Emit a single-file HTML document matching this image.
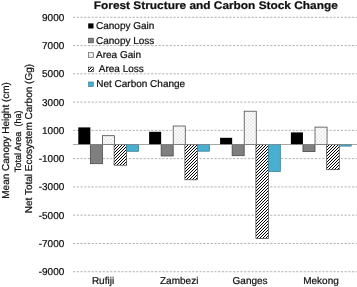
<!DOCTYPE html>
<html><head><meta charset="utf-8"><title>Forest Structure and Carbon Stock Change</title>
<style>html,body{margin:0;padding:0;background:#fff;}body{width:357px;height:287px;overflow:hidden;}svg{display:block;filter:blur(0.35px);}text{font-family:"Liberation Sans",sans-serif;fill:#111;stroke:#111;stroke-width:0.22px;text-rendering:geometricPrecision;}</style>
</head><body>
<svg width="357" height="287" viewBox="0 0 357 287">
<defs>
<pattern id="hatch" patternUnits="userSpaceOnUse" width="3" height="3"><rect width="3" height="3" fill="#fff"/><path d="M-1,1 L1,-1 M0,3 L3,0 M2,4 L4,2" stroke="#000" stroke-width="1.0"/></pattern>
<pattern id="dots" patternUnits="userSpaceOnUse" width="3.5" height="3.5"><rect width="3.5" height="3.5" fill="#fff"/><rect x="0.4" y="0.4" width="1" height="1" fill="#b8b8b8"/><rect x="2.15" y="2.15" width="1" height="1" fill="#b8b8b8"/></pattern>
</defs>
<rect width="357" height="287" fill="#fff"/>
<line x1="73.0" x2="357" y1="17.28" y2="17.28" stroke="#b2b2b2" stroke-width="1" stroke-dasharray="2.2 1.52"/>
<line x1="73.0" x2="357" y1="45.56" y2="45.56" stroke="#b2b2b2" stroke-width="1" stroke-dasharray="2.2 1.52"/>
<line x1="73.0" x2="357" y1="73.83" y2="73.83" stroke="#b2b2b2" stroke-width="1" stroke-dasharray="2.2 1.52"/>
<line x1="73.0" x2="357" y1="102.09" y2="102.09" stroke="#b2b2b2" stroke-width="1" stroke-dasharray="2.2 1.52"/>
<line x1="73.0" x2="357" y1="130.37" y2="130.37" stroke="#b2b2b2" stroke-width="1" stroke-dasharray="2.2 1.52"/>
<line x1="73.0" x2="357" y1="158.63" y2="158.63" stroke="#b2b2b2" stroke-width="1" stroke-dasharray="2.2 1.52"/>
<line x1="73.0" x2="357" y1="186.91" y2="186.91" stroke="#b2b2b2" stroke-width="1" stroke-dasharray="2.2 1.52"/>
<line x1="73.0" x2="357" y1="215.18" y2="215.18" stroke="#b2b2b2" stroke-width="1" stroke-dasharray="2.2 1.52"/>
<line x1="73.0" x2="357" y1="243.44" y2="243.44" stroke="#b2b2b2" stroke-width="1" stroke-dasharray="2.2 1.52"/>
<line x1="73.0" x2="357" y1="271.72" y2="271.72" stroke="#b2b2b2" stroke-width="1" stroke-dasharray="2.2 1.52"/>
<text x="64.3" y="20.68" font-size="10" text-anchor="end">9000</text>
<text x="64.3" y="48.96" font-size="10" text-anchor="end">7000</text>
<text x="64.3" y="77.23" font-size="10" text-anchor="end">5000</text>
<text x="64.3" y="105.50" font-size="10" text-anchor="end">3000</text>
<text x="64.3" y="133.77" font-size="10" text-anchor="end">1000</text>
<text x="64.3" y="162.03" font-size="10" text-anchor="end">-1000</text>
<text x="64.3" y="190.31" font-size="10" text-anchor="end">-3000</text>
<text x="64.3" y="218.58" font-size="10" text-anchor="end">-5000</text>
<text x="64.3" y="246.84" font-size="10" text-anchor="end">-7000</text>
<text x="64.3" y="275.12" font-size="10" text-anchor="end">-9000</text>
<rect x="78.30" y="127.40" width="12.05" height="17.10" fill="#000"/>
<rect x="90.35" y="144.50" width="12.05" height="19.20" fill="#7f7f7f" stroke="#4a4a4a" stroke-width="0.8"/>
<rect x="102.40" y="135.70" width="12.05" height="8.80" fill="url(#dots)" stroke="#404040" stroke-width="0.75"/>
<rect x="114.10" y="144.50" width="12.55" height="20.70" fill="url(#hatch)" stroke="#404040" stroke-width="0.7"/>
<rect x="126.50" y="144.50" width="12.05" height="6.80" fill="#48afd0" stroke="#3a7f96" stroke-width="0.8"/>
<rect x="149.10" y="131.80" width="12.05" height="12.70" fill="#000"/>
<rect x="161.15" y="144.50" width="12.05" height="11.50" fill="#7f7f7f" stroke="#4a4a4a" stroke-width="0.8"/>
<rect x="173.20" y="126.00" width="12.05" height="18.50" fill="url(#dots)" stroke="#404040" stroke-width="0.75"/>
<rect x="184.90" y="144.50" width="12.55" height="35.30" fill="url(#hatch)" stroke="#404040" stroke-width="0.7"/>
<rect x="197.30" y="144.50" width="12.05" height="6.70" fill="#48afd0" stroke="#3a7f96" stroke-width="0.8"/>
<rect x="220.10" y="137.80" width="12.05" height="6.70" fill="#000"/>
<rect x="232.15" y="144.50" width="12.05" height="11.20" fill="#7f7f7f" stroke="#4a4a4a" stroke-width="0.8"/>
<rect x="244.20" y="111.20" width="12.05" height="33.30" fill="url(#dots)" stroke="#404040" stroke-width="0.75"/>
<rect x="255.90" y="144.50" width="12.55" height="94.10" fill="url(#hatch)" stroke="#404040" stroke-width="0.7"/>
<rect x="268.30" y="144.50" width="12.05" height="26.90" fill="#48afd0" stroke="#3a7f96" stroke-width="0.8"/>
<rect x="290.90" y="132.40" width="12.05" height="12.10" fill="#000"/>
<rect x="302.95" y="144.50" width="12.05" height="7.10" fill="#7f7f7f" stroke="#4a4a4a" stroke-width="0.8"/>
<rect x="315.00" y="127.10" width="12.05" height="17.40" fill="url(#dots)" stroke="#404040" stroke-width="0.75"/>
<rect x="326.70" y="144.50" width="12.55" height="25.20" fill="url(#hatch)" stroke="#404040" stroke-width="0.7"/>
<rect x="339.10" y="144.50" width="12.05" height="1.60" fill="#48afd0" stroke="#3a7f96" stroke-width="0.8"/>
<line x1="73.0" x2="357" y1="144.50" y2="144.50" stroke="#8a8a8a" stroke-width="0.75"/>
<text x="103.0" y="284.2" font-size="10" text-anchor="middle">Rufiji</text>
<text x="179.2" y="284.2" font-size="10" text-anchor="middle">Zambezi</text>
<text x="250.1" y="284.2" font-size="10" text-anchor="middle">Ganges</text>
<text x="321.0" y="284.2" font-size="10" text-anchor="middle">Mekong</text>
<text x="93.8" y="8.5" font-size="11" font-weight="bold" fill="#000" stroke-width="0.1" textLength="244" lengthAdjust="spacingAndGlyphs">Forest Structure and Carbon Stock Change</text>
<rect x="88.2" y="23.40" width="5.3" height="5.1" fill="#000"/>
<text x="96.0" y="29.0" font-size="10">Canopy Gain</text>
<rect x="88.5" y="38.20" width="4.8" height="4.6" fill="#7f7f7f" stroke="#4d4d4d" stroke-width="0.7"/>
<text x="96.0" y="43.5" font-size="10">Canopy Loss</text>
<rect x="88.5" y="52.70" width="4.8" height="4.6" fill="url(#dots)" stroke="#555" stroke-width="0.7"/>
<text x="96.0" y="58.0" font-size="10">Area Gain</text>
<rect x="88.5" y="67.10" width="4.8" height="4.6" fill="url(#hatch)" stroke="#333" stroke-width="0.7"/>
<text x="98.8" y="72.4" font-size="10">Area Loss</text>
<rect x="88.5" y="82.00" width="4.8" height="4.6" fill="#48afd0" stroke="#3b8299" stroke-width="0.7"/>
<text x="96.2" y="87.3" font-size="10">Net Carbon Change</text>
<text transform="translate(9.1,140.4) rotate(-90)" font-size="10" text-anchor="middle">Mean Canopy Height (cm)</text>
<text transform="translate(20.9,141.3) rotate(-90)" font-size="9.15" text-anchor="middle">Total Area&#160;&#160;(ha)</text>
<text transform="translate(31.9,138.6) rotate(-90)" font-size="10" text-anchor="middle">Net Total Ecosystem Carbon (Gg)</text>
</svg></body></html>
